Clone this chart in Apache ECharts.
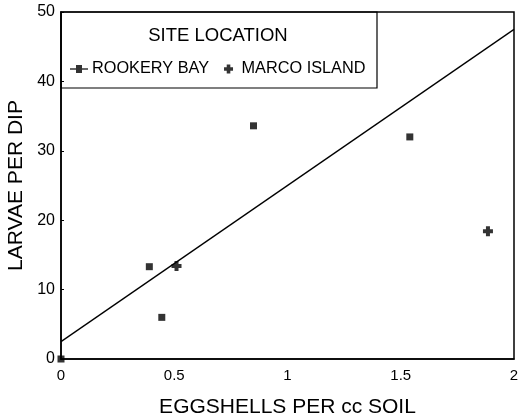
<!DOCTYPE html>
<html><head><meta charset="utf-8">
<script src="https://cdn.jsdelivr.net/npm/echarts@6/dist/echarts.min.js"></script>
<style>html,body{margin:0;padding:0;background:#fff}#c{width:527px;height:418px}</style>
</head><body><div id="c"></div>
<script>
const rookeryBay = [[0,0],[0.39,13.3],[0.445,6.0],[0.85,33.6],[1.54,32.0]];
const marcoIsland = [[0.51,13.4],[1.885,18.4]];
const regressionLine = [[0,2.5],[2,47.5]];
const xTicks = [0,0.5,1,1.5,2];
const yTicks = [0,10,20,30,40,50];
const legendTitle = 'SITE LOCATION';
const font = 'Liberation Sans, Arial, sans-serif';
const plusPath = 'path://M3,0H7V3H10V7H7V10H3V7H0V3H3Z';
const chart = echarts.init(document.getElementById('c'));
chart.setOption({
  animation:false,
  grid:{left:61,right:13,top:12,bottom:59,show:true,borderColor:'#000',borderWidth:1.5,outerBoundsMode:'none',containLabel:false},
  xAxis:{type:'value',min:0,max:2,interval:0.5,
    name:'EGGSHELLS PER cc SOIL',nameLocation:'middle',nameGap:38,
    nameTextStyle:{fontFamily:font,fontSize:21,color:'#000'},
    axisLine:{lineStyle:{color:'#000',width:1.5}},axisTick:{show:false},splitLine:{show:false},
    axisLabel:{fontFamily:font,fontSize:15,color:'#000',margin:9,
      formatter:v=>xTicks.includes(v)?String(v):''}},
  yAxis:{type:'value',min:0,max:50,interval:10,
    name:'LARVAE PER DIP',nameLocation:'middle',nameGap:31,
    nameTextStyle:{fontFamily:font,fontSize:21,color:'#000'},
    axisLine:{lineStyle:{color:'#000',width:1.5}},
    axisTick:{show:true,inside:true,length:3,lineStyle:{color:'#000'}},splitLine:{show:false},
    axisLabel:{fontFamily:font,fontSize:16,color:'#000',margin:6,
      formatter:v=>yTicks.includes(v)?String(v):''}},
  legend:{left:65,top:56,itemGap:15,itemWidth:18,itemHeight:9,
    textStyle:{fontFamily:font,fontSize:16.3,color:'#000',padding:[0,0,0,-1]},
    data:[{name:'ROOKERY BAY',icon:'path://M0,3.3H6V0H12V3.3H18V4.7H12V8H6V4.7H0Z'},
          {name:'MARCO ISLAND',icon:'path://M3,0H7V3H10V7H7V10H3V7H0V3H3Z'}]},
  graphic:[
    {type:'rect',shape:{x:61,y:12,width:316,height:76},style:{fill:'#fff',stroke:'#000',lineWidth:1.2},z:-1},
    {type:'text',style:{text:legendTitle,x:218,y:36,fontFamily:font,fontSize:18.5,fill:'#000',textAlign:'center',textVerticalAlign:'middle'}}
  ],
  series:[
    {name:'regression',type:'line',data:regressionLine,symbol:'none',lineStyle:{color:'#000',width:1.3},silent:true,z:1},
    {name:'ROOKERY BAY',type:'scatter',data:rookeryBay,symbol:'rect',symbolSize:7,itemStyle:{color:'#000'},z:3},
    {name:'MARCO ISLAND',type:'scatter',data:marcoIsland,symbol:plusPath,symbolSize:10,itemStyle:{color:'#000'},z:3}
  ]
});
</script></body></html>
